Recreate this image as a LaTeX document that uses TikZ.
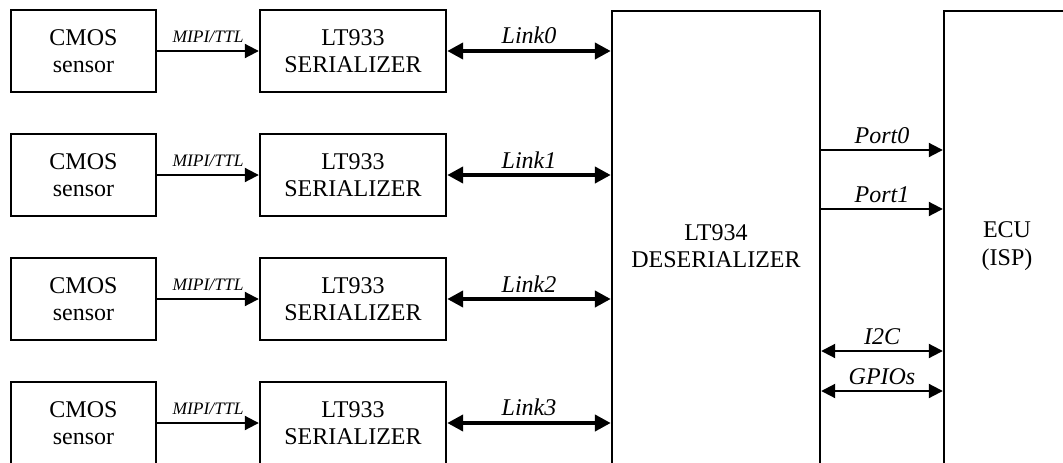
\documentclass[tikz,border=0pt]{standalone}
\usepackage{fontspec}
\setmainfont{Liberation Serif}
\usetikzlibrary{arrows.meta}
\begin{document}
\begin{tikzpicture}[x=1pt,y=-1pt]
			\tikzstyle{b} = [draw, line width=2.4pt, shape=rectangle, align=center, inner sep=0pt,
				font=\fontsize{24}{27.5}\selectfont]
			\tikzstyle{sensor} = [b, minimum width=145pt, minimum height=82pt]
			\tikzstyle{ser} = [b, minimum width=186pt, minimum height=82pt]
			\tikzstyle{big} = [b, anchor=north, minimum height=470pt]
			\tikzstyle{a} = [line width=2pt, -{Triangle[length=14pt,width=14pt]}]
			\tikzstyle{aa} = [line width=2pt, {Triangle[length=14pt,width=14pt]}-{Triangle[length=14pt,width=14pt]}]
			\tikzstyle{link} = [line width=4pt, {Triangle[length=16pt,width=16pt]}-{Triangle[length=16pt,width=16pt]}]
			\tikzstyle{lbl} = [above, inner sep=5pt, font=\fontsize{24}{27}\selectfont\itshape]
			\tikzstyle{small} = [above, inner sep=7pt, font=\fontsize{17.5}{20}\selectfont\itshape]
			\useasboundingbox (0,0) rectangle (1063,463);
			\clip (0,0) rectangle (1063,463);
			% deserializer and ECU
			\node[big, minimum width=208pt] (des) at (716,10) {LT934\\DESERIALIZER};
			\node[big, minimum width=126pt] (ecu) at (1007,10) {ECU\\(ISP)};
			% the four camera rows
			\foreach \i/\y in {0/51, 1/175, 2/299, 3/423} {
				\node[sensor] (cmos\i) at (83.5,\y) {CMOS\\sensor};
				\node[ser] (ser\i) at (353,\y) {LT933\\SERIALIZER};
				\draw[a] (cmos\i) -- node[small] {MIPI/TTL} (ser\i);
				\draw[link] (ser\i.east) -- node[lbl] {Link\i} (ser\i.east -| des.west);
			}
			% ECU side
			\draw[a] (des.east |- 0,150) -- node[lbl] {Port0} (ecu.west |- 0,150);
			\draw[a] (des.east |- 0,209) -- node[lbl] {Port1} (ecu.west |- 0,209);
			\draw[aa] (des.east |- 0,351) -- node[lbl] {I2C} (ecu.west |- 0,351);
			\draw[aa] (des.east |- 0,391) -- node[lbl] {GPIOs} (ecu.west |- 0,391);
\end{tikzpicture}
\end{document}
